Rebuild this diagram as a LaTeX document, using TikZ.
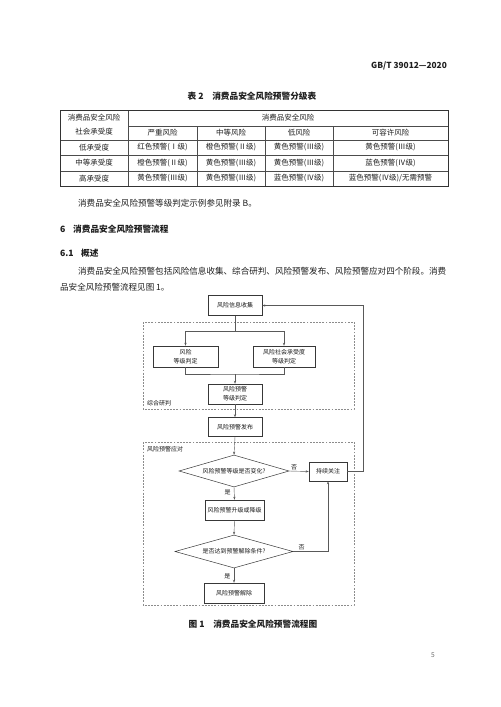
\documentclass[tikz,border=0pt]{standalone}
\usepackage{fontspec}
\setmainfont{Noto Sans CJK SC}
\usetikzlibrary{shapes.geometric,arrows.meta}
\newcommand\fcsz{\fontsize{7.2}{10.6}\selectfont}
\newcommand\tbsz{\fontsize{9}{18}\selectfont}
\newcommand\bdsz{\fontsize{10.27}{16}\selectfont}
\newcommand\hdsz{\fontsize{10.4}{14}\selectfont\bfseries}
\newcommand\dunhao{\makebox[1em][l]{、}}
\tikzset{
  txt/.style={inner sep=0pt, text=black!88},
  bx/.style 2 args={draw=black!78, line width=0.6pt, font=\fcsz, align=center,
     inner sep=0pt, text=black!90, minimum width=#1*1.2pt, minimum height=#2*1.2pt},
  dm/.style 2 args={draw=black!78, line width=0.6pt, font=\fcsz, shape=diamond,
     aspect=3.4, inner sep=0pt, text=black!90, minimum width=#1*1.2pt, minimum height=#2*1.2pt},
  ln/.style={draw=black!65, line width=0.5pt},
  arr/.style={ln, -{Stealth[length=3.6pt,width=2.6pt]}},
  lbl/.style={font=\fcsz, inner sep=1pt, text=black!90},
  dashbox/.style={draw=black!45, line width=0.7pt, dash pattern=on 2.2pt off 1.6pt},
  tcell/.style={txt, font=\tbsz, align=center},
  outer/.style={draw=black!80, line width=0.9pt},
  inner/.style={draw=black!70, line width=0.45pt}
}
\begin{document}
\begin{tikzpicture}[x=1.2pt,y=-1.2pt]
\useasboundingbox (0,0) rectangle (500,707);
\fill[white] (0,0) rectangle (500,707);

% header
\node[txt, anchor=east, font=\fontsize{10}{12}\selectfont\bfseries] (hdr) at (447,66) {GB/T 39012—2020};

% table caption
\node[txt, font=\hdsz] (tcap) at (252,96) {表 2\quad 消费品安全风险预警分级表};

% table lines
\draw[inner] (128,126) -- (448,126);
\draw[inner] (60,140) -- (448,140);
\draw[inner] (60,155) -- (448,155);
\draw[inner] (60,171) -- (448,171);
\draw[inner] (128,110) -- (128,186);
\draw[inner] (197,126) -- (197,186);
\draw[inner] (265,126) -- (265,186);
\draw[inner] (333,126) -- (333,186);
\draw[outer] (60,110) rectangle (448,186);

% table texts
\node[tcell] (h0) at (94,124.5) {消费品安全风险\\[-2pt]社会承受度};
\node[tcell] (h1) at (288,118) {消费品安全风险};
\node[tcell] (s1) at (162.5,133) {严重风险};
\node[tcell] (s2) at (231,133) {中等风险};
\node[tcell] (s3) at (299,133) {低风险};
\node[tcell] (s4) at (390.5,133) {可容许风险};

\node[tcell] (r1) at (94,147.5) {低承受度};
\node[tcell] (r1a) at (162.5,147.5) {红色预警(Ⅰ级)};
\node[tcell] (r1b) at (231,147.5) {橙色预警(Ⅱ级)};
\node[tcell] (r1c) at (299,147.5) {黄色预警(Ⅲ级)};
\node[tcell] (r1d) at (390.5,147.5) {黄色预警(Ⅲ级)};

\node[tcell] (r2) at (94,163) {中等承受度};
\node[tcell] (r2a) at (162.5,163) {橙色预警(Ⅱ级)};
\node[tcell] (r2b) at (231,163) {黄色预警(Ⅲ级)};
\node[tcell] (r2c) at (299,163) {黄色预警(Ⅲ级)};
\node[tcell] (r2d) at (390.5,163) {蓝色预警(Ⅳ级)};

\node[tcell] (r3) at (94,178.5) {高承受度};
\node[tcell] (r3a) at (162.5,178.5) {黄色预警(Ⅲ级)};
\node[tcell] (r3b) at (231,178.5) {黄色预警(Ⅲ级)};
\node[tcell] (r3c) at (299,178.5) {蓝色预警(Ⅳ级)};
\node[tcell] (r3d) at (390.5,178.5) {蓝色预警(Ⅳ级)/无需预警};

% body text
\node[txt, anchor=west, font=\bdsz] (p0) at (78,203) {消费品安全风险预警等级判定示例参见附录 B。};
\node[txt, anchor=west, font=\hdsz] (sec6n) at (60,229) {6};
\node[txt, anchor=west, font=\hdsz] (sec6) at (73,229) {消费品安全风险预警流程};
\node[txt, anchor=west, font=\hdsz] (sec61n) at (60,253) {6.1};
\node[txt, anchor=west, font=\hdsz] (sec61) at (81,253) {概述};
\node[txt, anchor=west, font=\bdsz] (p1) at (78,271) {消费品安全风险预警包括风险信息收集\dunhao 综合研判\dunhao 风险预警发布\dunhao 风险预警应对四个阶段。消费};
\node[txt, anchor=west, font=\bdsz] (p2) at (60,287) {品安全风险预警流程见图 1。};

% dashed regions
\draw[dashbox] (143,322) rectangle (354,409);
\draw[dashbox] (143,442) rectangle (354,605);
\node[lbl, anchor=west] (lab1) at (146,403) {综合研判};
\node[lbl, anchor=west] (lab2) at (146,449) {风险预警应对};

% flowchart nodes
\node[bx={54}{20}] (collect) at (235,305.5) {风险信息收集};
\node[bx={65}{21}] (risk) at (185.5,356.5) {风险\\等级判定};
\node[bx={62}{21}] (social) at (284,356.5) {风险社会承受度\\等级判定};
\node[bx={54}{20}] (level) at (235,394) {风险预警\\等级判定};
\node[bx={54}{19}] (publish) at (235,427) {风险预警发布};
\node[dm={110}{32}] (d1) at (234,471) {风险预警等级是否变化?};
\node[bx={38}{19}] (follow) at (328,471.5) {持续关注};
\node[bx={59}{20}] (change) at (234.5,510) {风险预警升级或降级};
\node[dm={118}{33}] (d2) at (234,551.5) {是否达到预警解除条件?};
\node[bx={60}{20}] (lift) at (234,593) {风险预警解除};

% connectors
\coordinate (split) at (235,331);
\coordinate (join) at (235,374);
\draw[ln] (collect.south) -- (split);
\draw[arr] (split) -| (risk.north);
\draw[arr] (split) -| (social.north);
\draw[ln] (risk.south) |- (join) -| (social.south);
\draw[arr] (join) -- (level.north);
\draw[arr] (level.south) -- (publish.north);
\draw[arr] (publish.south) -- (d1.north);
\draw[arr] (d1.east) -- node[lbl, above, pos=0.25] {否} (follow.west);
\draw[arr] (d1.south) -- node[lbl, left=3pt, pos=0.4] {是} (change.north);
\draw[arr] (change.south) -- (d2.north);
\draw[arr] (d2.south) -- node[lbl, left=3pt, pos=0.55] {是} (lift.north);
\draw[arr] (d2.east) -| node[lbl, above, pos=0.12] {否} (follow.south);
\draw[arr] (follow.east) -- ++(16,0) |- (collect.east);

% caption and page number
\node[txt, font=\hdsz] (fcap) at (253,624) {图 1\quad 消费品安全风险预警流程图};
\node[txt, font=\fontsize{8}{10}\selectfont, text=black!60] (pg) at (433,655) {5};
\end{tikzpicture}
\end{document}
